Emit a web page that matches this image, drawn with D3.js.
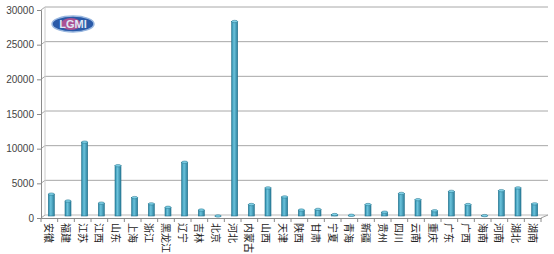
<!DOCTYPE html>
<html>
<head>
<meta charset="utf-8">
<script src="https://cdn.jsdelivr.net/npm/d3@7"></script>
<style>
body{margin:0;background:#fff;}
text{font-family:"Noto Sans CJK SC","DejaVu Sans",sans-serif;}
</style>
</head>
<body>
<svg id="chart" width="554" height="254"></svg>
<script>
var provinces = ["安徽","福建","江苏","江西","山东","上海","浙江","黑龙江","辽宁","吉林","北京","河北","内蒙古","山西","天津","陕西","甘肃","宁夏","青海","新疆","贵州","四川","云南","重庆","广东","广西","海南","河南","湖北","湖南"];
var values = [3300,2300,10800,2000,7400,2800,1900,1400,7900,1000,150,28200,1800,4200,2900,1000,1100,350,250,1800,700,3400,2500,900,3700,1800,200,3800,4200,1900];
var yTicks = [0,5000,10000,15000,20000,25000,30000];

var svg = d3.select("#chart");
var plotLeft = 41, plotRight = 541, plotBottom = 218, plotTop = 10;
var dx = 4, dy = 3; // depth of 3d wall

var x = d3.scaleBand().domain(provinces).range([plotLeft, plotRight]);
var y = d3.scaleLinear().domain([0,30000]).range([plotBottom, plotTop]);

// gradient for bars
var defs = svg.append("defs");
var grad = defs.append("linearGradient").attr("id","barg").attr("x1","0").attr("x2","1");
grad.append("stop").attr("offset","0").attr("stop-color","#2b8aa8");
grad.append("stop").attr("offset","0.4").attr("stop-color","#6cc3dc");
grad.append("stop").attr("offset","1").attr("stop-color","#2a7f9c");

// back wall gridlines
var grid = svg.append("g");
yTicks.forEach(function(t){
  grid.append("line").attr("x1", plotLeft + dx).attr("x2", plotRight + dx + 3)
    .attr("y1", y(t) - dy).attr("y2", y(t) - dy)
    .attr("stroke", t == 0 ? "#bbb" : "#a8a8a8").attr("stroke-width", 1);
  grid.append("line").attr("x1", plotLeft).attr("x2", plotLeft + dx)
    .attr("y1", y(t)).attr("y2", y(t) - dy).attr("stroke","#a8a8a8");
});
// back wall left edge
grid.append("line").attr("x1", plotLeft + dx).attr("x2", plotLeft + dx).attr("y1", y(30000) - dy).attr("y2", plotBottom - dy).attr("stroke","#ccc");

// y axis
var yAxis = d3.axisLeft(y).tickValues(yTicks).tickSize(4).tickFormat(d3.format("d"));
var ya = svg.append("g").attr("transform","translate(" + plotLeft + ",0)").call(yAxis);
ya.select(".domain").attr("stroke","#8a8a8a");
ya.selectAll(".tick line").attr("stroke","#8a8a8a");
ya.selectAll("text").attr("fill","#444").style("font-size","10px").style("font-family","Liberation Sans, Arial, sans-serif");

// floor right slant
svg.append("line").attr("x1", plotRight).attr("x2", plotRight + dx + 3).attr("y1", plotBottom).attr("y2", plotBottom - dy).attr("stroke","#a0a0a0");

// bars
var bw = 6;
var bars = svg.append("g").selectAll("g").data(values).enter().append("g")
  .attr("transform", function(d, i){ return "translate(" + (x(provinces[i]) + x.bandwidth()/2 + 2 - bw/2) + ",0)"; });
bars.append("rect")
  .attr("x", 0).attr("width", bw)
  .attr("y", function(d){ return y(d) - 1; })
  .attr("height", function(d){ return Math.max(0.5, plotBottom - 1 - y(d)); })
  .attr("fill","url(#barg)").attr("stroke","#23708a").attr("stroke-width",0.6);
bars.append("ellipse")
  .attr("cx", bw/2).attr("cy", function(d){ return y(d) - 1; })
  .attr("rx", bw/2).attr("ry", 1.2)
  .attr("fill","#7fd0e6").attr("stroke","#23708a").attr("stroke-width",0.5);

// x axis
var xAxis = d3.axisBottom(x).tickSize(0).tickFormat("");
var xa = svg.append("g").attr("transform","translate(0," + plotBottom + ")").call(xAxis);
xa.select(".domain").attr("stroke","#8a8a8a");
// category separators
svg.append("g").selectAll("line").data(provinces.concat(["_end"])).enter().append("line")
  .attr("x1", function(d, i){ return plotLeft + i * x.step(); })
  .attr("x2", function(d, i){ return plotLeft + i * x.step(); })
  .attr("y1", plotBottom).attr("y2", plotBottom + 4).attr("stroke","#8a8a8a");

// rotated labels
svg.append("g").selectAll("text").data(provinces).enter().append("text")
  .attr("transform", function(d){ return "translate(" + (x(d) + x.bandwidth()/2 - 4) + "," + (plotBottom + 5) + ") rotate(90)"; })
  .attr("text-anchor","start")
  .attr("fill","#222")
  .style("font-size","10px")
  .text(function(d){ return d; });

// logo
var logo = svg.append("g").attr("transform","translate(73,24)");
logo.append("ellipse").attr("rx",21).attr("ry",8).attr("fill","#2a5aa8").attr("stroke","#9ab8e0").attr("stroke-width",1.5);
logo.append("ellipse").attr("rx",10).attr("ry",6).attr("cx",-2).attr("fill","#e24f8a").attr("opacity",0.7);
logo.append("text").attr("text-anchor","middle").attr("y",4).attr("fill","#dfe8f5")
  .style("font-size","11px").style("font-weight","bold").style("font-family","Liberation Sans, Arial, sans-serif")
  .text("LGMI");
</script>
</body>
</html>
